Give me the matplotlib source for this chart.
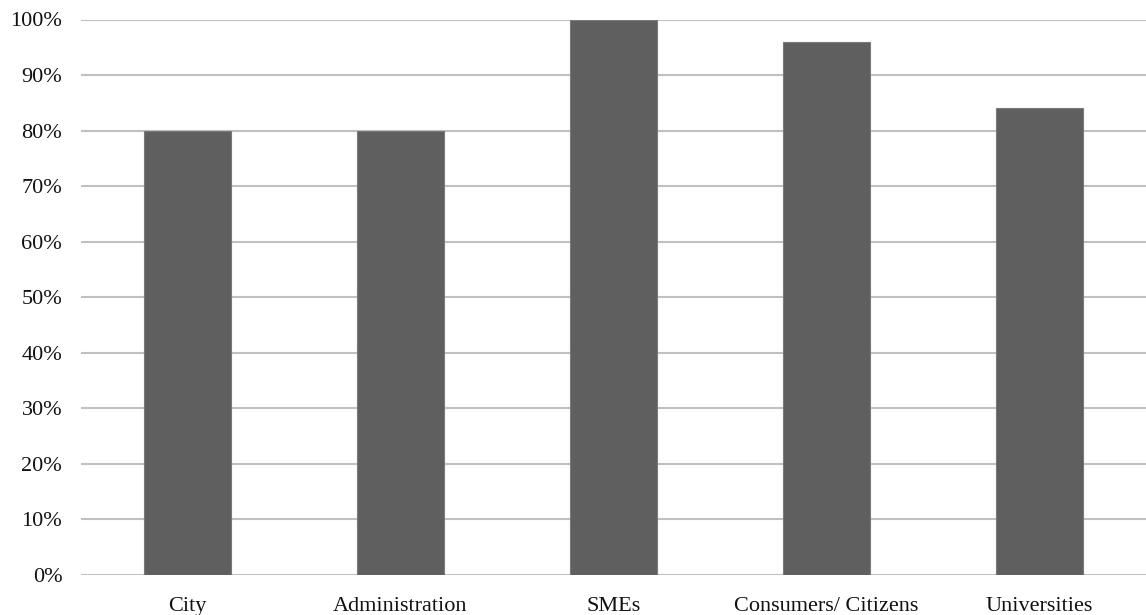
import matplotlib
matplotlib.use("Agg")
import matplotlib.pyplot as plt
from matplotlib.ticker import PercentFormatter

categories = ["City", "Administration", "SMEs", "Consumers/ Citizens", "Universities"]
values = [80, 80, 100, 96, 84]
yticks = [0, 10, 20, 30, 40, 50, 60, 70, 80, 90, 100]

plt.rcParams['font.family'] = ['Liberation Serif', 'DejaVu Serif']

W, H = 1146, 615
fig = plt.figure(figsize=(W / 100, H / 100), dpi=100)
ax = fig.add_axes([81 / W, 1 - 575 / H, (W - 81) / W, (575 - 19.5) / H])

x = list(range(len(categories)))
ax.bar(x, values, width=0.41, color="#5f5f5f", edgecolor="#7a7a7a", linewidth=0.8, zorder=3)

ax.set_xlim(-0.5, len(categories) - 0.5)
ax.set_ylim(0, 100)
ax.set_yticks(yticks)
ax.yaxis.set_major_formatter(PercentFormatter(decimals=0))
ax.grid(axis="y", color="#c0c0c0", linewidth=1.5, zorder=0)
ax.set_axisbelow(True)
ax.set_xticks(x)
ax.set_xticklabels(categories)

for s in ax.spines.values():
    s.set_visible(False)
ax.tick_params(axis="both", length=0, labelsize=16, colors="#111111")
ax.tick_params(axis="y", pad=13.5)
ax.tick_params(axis="x", pad=15.5)

fig.savefig("out.png", dpi=100)
